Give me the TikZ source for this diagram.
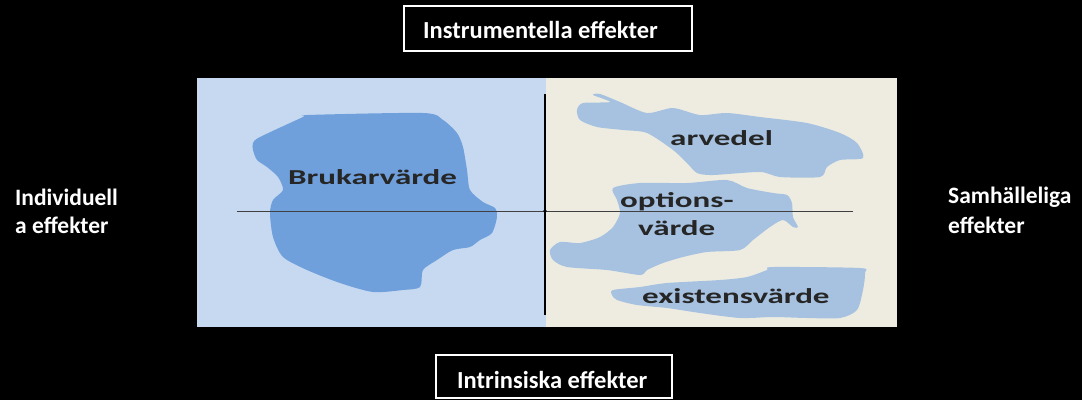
\documentclass[tikz,border=0pt]{standalone}
\usepackage{fontspec}
\usepackage{graphicx}
\setmainfont{Carlito}
\definecolor{panelblue}{HTML}{C6D9F0}
\definecolor{panelbeige}{HTML}{EEECE1}
\definecolor{blobdark}{HTML}{6FA0DC}
\definecolor{bloblight}{HTML}{A6C2E0}
\newcommand{\wide}[1]{\scalebox{1.55}[1]{#1}}
\begin{document}
\begin{tikzpicture}[x=1pt,y=-1pt,
  whitetxt/.style={text=white,font=\bfseries\fontsize{23.5}{28}\selectfont,inner sep=0pt},
  boxtxt/.style={text=white,font=\bfseries\fontsize{24.5}{28}\selectfont,inner sep=0pt},
  blobtxt/.style={text=black!85,font=\bfseries\fontsize{21.3}{24}\selectfont,inner sep=0pt},
  framebox/.style={draw=white,line width=1.5pt,fill=black},
  axis/.style={draw=black!75,line width=0.9pt}]
\useasboundingbox (0,0) rectangle (1082,400);
\fill[black] (0,0) rectangle (1082,400);
% panels
\fill[panelblue] (197,78) rectangle (546,327);
\fill[panelbeige] (546,78) rectangle (897,327);
% Brukarvarde blob
\fill[blobdark] plot[smooth cycle,tension=0.45] coordinates {
(253,143) (260,137) (303,117) (307,115) (423,113) (443,120) (457,133) (463,147)
(467,170) (470,190) (483,202) (495,208) (497,217) (492,233) (480,240) (470,247)
(453,250) (437,260) (423,270) (420,287) (403,290) (373,292) (340,283) (307,270)
(283,257) (273,237) (270,213) (273,200) (283,190) (278,177) (267,167) (257,160) (253,150)};
% arvedel blob
\fill[bloblight] plot[smooth cycle,tension=0.45] coordinates {
(577,110) (583,103) (610,102) (593,95) (600,94) (620,102) (647,113) (673,108)
(700,115) (727,113) (760,117) (807,123) (840,133) (857,143) (863,158) (840,160)
(827,167) (820,177) (780,177) (760,172) (713,175) (697,173) (687,163) (673,150)
(647,133) (623,130) (597,127) (580,120)};
% options blob
\fill[bloblight] plot[smooth cycle,tension=0.45] coordinates {
(613,188) (640,183) (687,183) (727,180) (747,188) (773,193) (787,195) (792,203)
(793,217) (798,227) (793,227) (783,220) (770,227) (753,240) (740,250) (707,252)
(683,257) (663,263) (647,270) (640,275) (607,270) (567,267) (553,260) (550,250)
(560,242) (580,243) (600,237) (613,227) (620,213) (617,200)};
% existens blob
\fill[bloblight] plot[smooth cycle,tension=0.45] coordinates {
(613,290) (640,287) (667,283) (720,280) (747,277) (767,270) (773,267) (860,268)
(865,273) (863,290) (857,310) (840,318) (807,318) (773,317) (740,318) (700,313)
(667,308) (637,305) (617,300) (612,295)};
% axes
\coordinate (hl) at (237,211);
\coordinate (hr) at (853,211);
\coordinate (vt) at (545,94);
\coordinate (vb) at (545,315);
\draw[axis] (hl) -- (hr);
\draw[axis,line width=1.6pt,draw=black] (vt) -- (vb);
\fill[black] (545,211) circle (1.8pt);
% blob labels
\node[blobtxt,anchor=base west] (bruk) at (288,184) {\wide{Brukarvärde}};
\node[blobtxt,anchor=base west] (arv) at (670,145) {\wide{arvedel}};
\node[blobtxt,anchor=base west] (opt) at (620,207) {\wide{options-}};
\node[blobtxt,anchor=base west] (opt2) at (638,235) {\wide{värde}};
\node[blobtxt,anchor=base west] (exi) at (642,303) {\wide{existensvärde}};
% frame boxes
\draw[framebox] (404,6) rectangle (692,51);
\node[boxtxt,anchor=base west] (top) at (423,38) {Instrumentella effekter};
\draw[framebox] (436,355) rectangle (672,398);
\node[boxtxt,anchor=base west] (bot) at (457,388) {Intrinsiska effekter};
% side labels
\node[whitetxt,anchor=base west] (left1) at (15,205) {Individuell};
\node[whitetxt,anchor=base west] (left2) at (15,233) {a effekter};
\node[whitetxt,anchor=base west] (right1) at (948,203) {Samhälleliga};
\node[whitetxt,anchor=base west] (right2) at (948,233) {effekter};
\end{tikzpicture}
\end{document}
